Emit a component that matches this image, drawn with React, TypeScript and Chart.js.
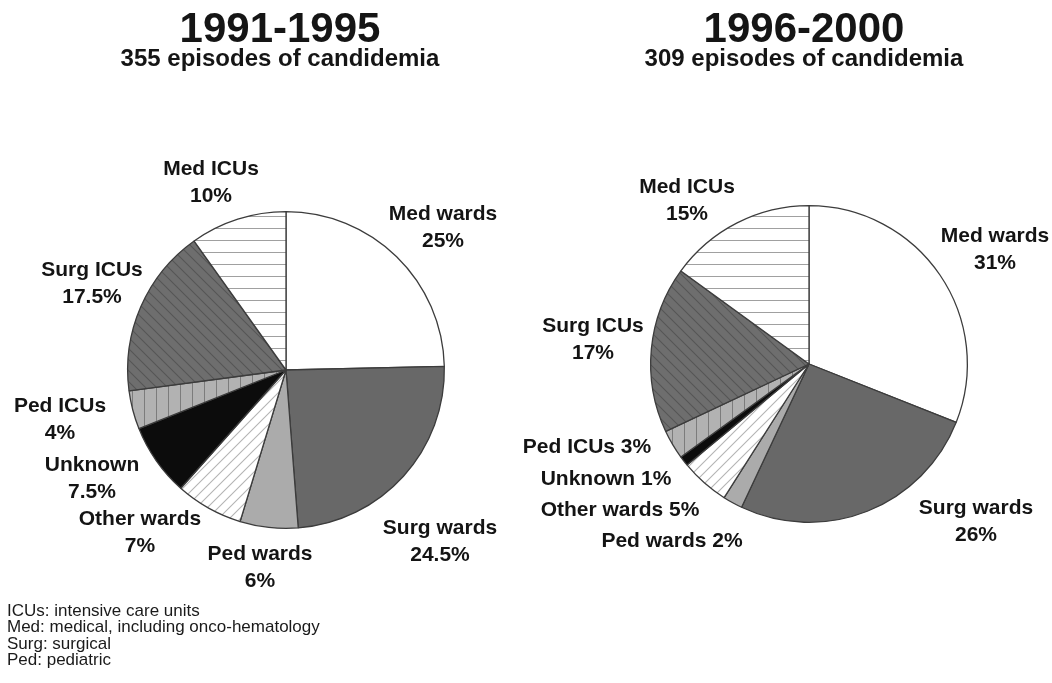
import React, { useEffect, useRef } from "react";
import { Chart, registerables } from "chart.js";

Chart.register(...registerables);

// ---------- data ----------
const categories = [
  "Med wards",
  "Surg wards",
  "Ped wards",
  "Other wards",
  "Unknown",
  "Ped ICUs",
  "Surg ICUs",
  "Med ICUs",
];
const values1991 = [25, 24.5, 6, 7, 7.5, 4, 17.5, 10];
const values1996 = [31, 26, 2, 5, 1, 3, 17, 15];
const titles = ["1991-1995", "1996-2000"];
const subtitles = ["355 episodes of candidemia", "309 episodes of candidemia"];
const footnotes = [
  "ICUs: intensive care units",
  "Med: medical, including onco-hematology",
  "Surg: surgical",
  "Ped: pediatric",
];

// ---------- layout (label offsets from pie centre, first baseline; split = two lines) ----------
const labelLayout1991: [number, number, boolean][] = [
  [157, -150, true],
  [154, 164, true],
  [-26, 190, true],
  [-146, 155, true],
  [-194, 101, true],
  [-226, 42, true],
  [-194, -94, true],
  [-75, -195, true],
];
const labelLayout1996: [number, number, boolean][] = [
  [186, -122, true],
  [167, 150, true],
  [-137, 183, false],
  [-189, 152, false],
  [-203, 121, false],
  [-222, 89, false],
  [-216, -32, true],
  [-122, -171, true],
];

const W = 1052;
const H = 683;
const R = 159;

type Kind = "solid" | "h" | "v" | "fwd" | "back";

function makePattern(bg: string, line: string, kind: Kind, s: number): CanvasPattern | string {
  if (kind === "solid") return bg;
  const c = document.createElement("canvas");
  c.width = s;
  c.height = s;
  const g = c.getContext("2d")!;
  g.fillStyle = bg;
  g.fillRect(0, 0, s, s);
  g.fillStyle = line;
  g.strokeStyle = line;
  g.lineWidth = 1.1;
  if (kind === "h") g.fillRect(0, 0, s, 1);
  else if (kind === "v") g.fillRect(0, 0, 1, s);
  else {
    g.beginPath();
    if (kind === "fwd") {
      g.moveTo(0, s);
      g.lineTo(s, 0);
      g.moveTo(-2, 2);
      g.lineTo(2, -2);
      g.moveTo(s - 2, s + 2);
      g.lineTo(s + 2, s - 2);
    } else {
      g.moveTo(0, 0);
      g.lineTo(s, s);
      g.moveTo(-2, s - 2);
      g.lineTo(2, s + 2);
      g.moveTo(s - 2, -2);
      g.lineTo(s + 2, 2);
    }
    g.stroke();
  }
  return g.createPattern(c, "repeat")!;
}

function fills() {
  return [
    makePattern("#ffffff", "", "solid", 1),
    makePattern("#686868", "", "solid", 1),
    makePattern("#ababab", "", "solid", 1),
    makePattern("#ffffff", "#b4b4b4", "fwd", 11),
    makePattern("#0c0c0c", "", "solid", 1),
    makePattern("#b2b2b2", "#7c7c7c", "v", 12),
    makePattern("#6e6e6e", "#565656", "back", 11),
    makePattern("#ffffff", "#a0a0a0", "h", 12),
  ];
}

const labelPlugin = {
  id: "sliceLabels",
  afterDraw(chart: any) {
    const opts = chart.options.plugins.sliceLabels;
    if (!opts) return;
    const meta = chart.getDatasetMeta(0);
    const arc = meta.data[0];
    if (!arc) return;
    const cx = arc.x;
    const cy = arc.y;
    const ctx = chart.ctx;
    ctx.save();
    ctx.font = "bold 21px 'Liberation Sans', Arial, sans-serif";
    ctx.fillStyle = "#141414";
    ctx.textAlign = "center";
    ctx.textBaseline = "alphabetic";
    const vals: number[] = chart.data.datasets[0].data;
    chart.data.labels.forEach((name: string, i: number) => {
      const [dx, dy, split] = opts.layout[i];
      const pct = `${vals[i]}%`;
      if (split) {
        ctx.fillText(name, cx + dx, cy + dy);
        ctx.fillText(pct, cx + dx, cy + dy + 27);
      } else {
        ctx.fillText(`${name} ${pct}`, cx + dx, cy + dy);
      }
    });
    ctx.restore();
  },
};

function PieCanvas({
  values,
  layout,
  cx,
  cy,
}: {
  values: number[];
  layout: [number, number, boolean][];
  cx: number;
  cy: number;
}) {
  const ref = useRef<HTMLCanvasElement>(null);
  useEffect(() => {
    if (!ref.current) return;
    const chart = new Chart(ref.current, {
      type: "pie",
      data: {
        labels: categories,
        datasets: [
          {
            data: values,
            backgroundColor: fills() as any,
            borderColor: "#3c3c3c",
            borderWidth: 1.3,
          },
        ],
      },
      options: {
        animation: false,
        responsive: false,
        events: [],
        layout: {
          padding: {
            left: cx - R,
            right: W - (cx + R),
            top: cy - R,
            bottom: H - (cy + R),
          },
        },
        plugins: {
          legend: { display: false },
          tooltip: { enabled: false },
          sliceLabels: { layout },
        } as any,
      },
      plugins: [labelPlugin],
    });
    return () => chart.destroy();
  }, []);
  return (
    <canvas
      ref={ref}
      width={W}
      height={H}
      style={{ position: "absolute", left: 0, top: 0, width: W, height: H }}
    />
  );
}

const font = "'Liberation Sans', Arial, Helvetica, sans-serif";

function Title({ cxPos, i }: { cxPos: number; i: number }) {
  return (
    <>
      <div
        style={{
          position: "absolute",
          left: cxPos - 250,
          width: 500,
          top: 43 - 0.8465 * 42,
          textAlign: "center",
          font: `bold 42px/1 ${font}`,
          color: "#151515",
          whiteSpace: "nowrap",
        }}
      >
        {titles[i]}
      </div>
      <div
        style={{
          position: "absolute",
          left: cxPos - 250,
          width: 500,
          top: 66 - 0.8465 * 24,
          textAlign: "center",
          font: `bold 24px/1 ${font}`,
          color: "#151515",
          whiteSpace: "nowrap",
        }}
      >
        {subtitles[i]}
      </div>
    </>
  );
}

export default function App() {
  return (
    <div
      style={{
        position: "absolute",
        left: 0,
        top: 0,
        width: W,
        height: H,
        background: "#ffffff",
        overflow: "hidden",
      }}
    >
      <PieCanvas values={values1991} layout={labelLayout1991} cx={286} cy={370} />
      <PieCanvas values={values1996} layout={labelLayout1996} cx={809} cy={364} />
      <Title cxPos={280} i={0} />
      <Title cxPos={804} i={1} />
      <div
        style={{
          position: "absolute",
          left: 7,
          top: 603,
          font: `17px/16.4px ${font}`,
          color: "#1a1a1a",
          whiteSpace: "nowrap",
        }}
      >
        {footnotes.map((t) => (
          <div key={t}>{t}</div>
        ))}
      </div>
    </div>
  );
}
